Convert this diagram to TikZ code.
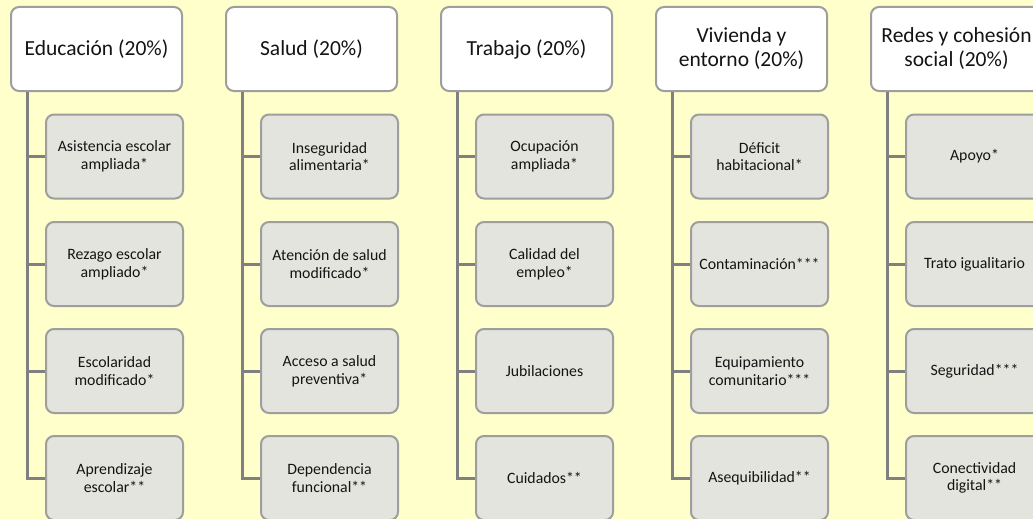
\documentclass[tikz,border=0pt]{standalone}
\usepackage{fontspec}
\setmainfont{Carlito}
\usetikzlibrary{calc}
\definecolor{bgY}{RGB}{255,255,204}
\definecolor{boxLine}{RGB}{158,158,158}
\definecolor{childFill}{RGB}{228,228,222}
\definecolor{connGray}{RGB}{128,128,128}
\definecolor{txt}{RGB}{20,20,20}
\tikzset{
  x=1pt,y=-1pt,
  hdr/.style={draw=boxLine,line width=2pt,fill=white,rounded corners=8pt,
    minimum width=171pt,minimum height=84pt,align=center,inner sep=2pt,
    font=\fontsize{21.5}{24}\selectfont,text=txt},
  chd/.style={draw=boxLine,line width=2pt,fill=childFill,rounded corners=8pt,
    minimum width=137pt,minimum height=84pt,align=center,inner sep=2pt,
    font=\fontsize{15.8}{17.6}\selectfont,text=txt,anchor=west},
  conn/.style={draw=connGray,line width=3pt}
}
\begin{document}
\begin{tikzpicture}
\fill[bgY] (0,0) rectangle (1033,519);
\useasboundingbox (0,0) rectangle (1033,519);
% column 1
\node[hdr] (h1) at (96.5,49) {Educación (20\%)};
\node[chd] (a1) at (45,156.5) {Asistencia escolar\\ampliada*};
\node[chd] (a2) at (45,264) {Rezago escolar\\ampliado*};
\node[chd] (a3) at (45,371) {Escolaridad\\modificado*};
\node[chd] (a4) at (45,478) {Aprendizaje\\escolar**};
% column 2
\node[hdr] (h2) at (311.5,49) {Salud (20\%)};
\node[chd] (b1) at (260,156.5) {Inseguridad\\alimentaria*};
\node[chd] (b2) at (260,264) {Atención de salud\\modificado*};
\node[chd] (b3) at (260,371) {Acceso a salud\\preventiva*};
\node[chd] (b4) at (260,478) {Dependencia\\funcional**};
% column 3
\node[hdr] (h3) at (526.5,49) {Trabajo (20\%)};
\node[chd] (c1) at (475,156.5) {Ocupación\\ampliada*};
\node[chd] (c2) at (475,264) {Calidad del\\empleo*};
\node[chd] (c3) at (475,371) {Jubilaciones};
\node[chd] (c4) at (475,478) {Cuidados**};
% column 4
\node[hdr] (h4) at (741.5,49) {Vivienda y\\entorno (20\%)};
\node[chd] (d1) at (690,156.5) {Déficit\\habitacional*};
\node[chd] (d2) at (690,264) {Contaminación***};
\node[chd] (d3) at (690,371) {Equipamiento\\comunitario***};
\node[chd] (d4) at (690,478) {Asequibilidad**};
% column 5
\node[hdr] (h5) at (956.5,49) {Redes y cohesión\\social (20\%)};
\node[chd] (e1) at (905,156.5) {Apoyo*};
\node[chd] (e2) at (905,264) {Trato igualitario};
\node[chd] (e3) at (905,371) {Seguridad***};
\node[chd] (e4) at (905,478) {Conectividad\\digital**};
% connectors
\foreach \h/\c in {h1/a,h2/b,h3/c,h4/d,h5/e}{
  \coordinate (\h t) at ($(\h.south west)+(17,0)$);
  \draw[conn] (\h t) |- (\c4.west);
  \foreach \k in {1,2,3}{
    \draw[conn] (\h t |- \c\k.west) -- (\c\k.west);
  }
}
\end{tikzpicture}
\end{document}
